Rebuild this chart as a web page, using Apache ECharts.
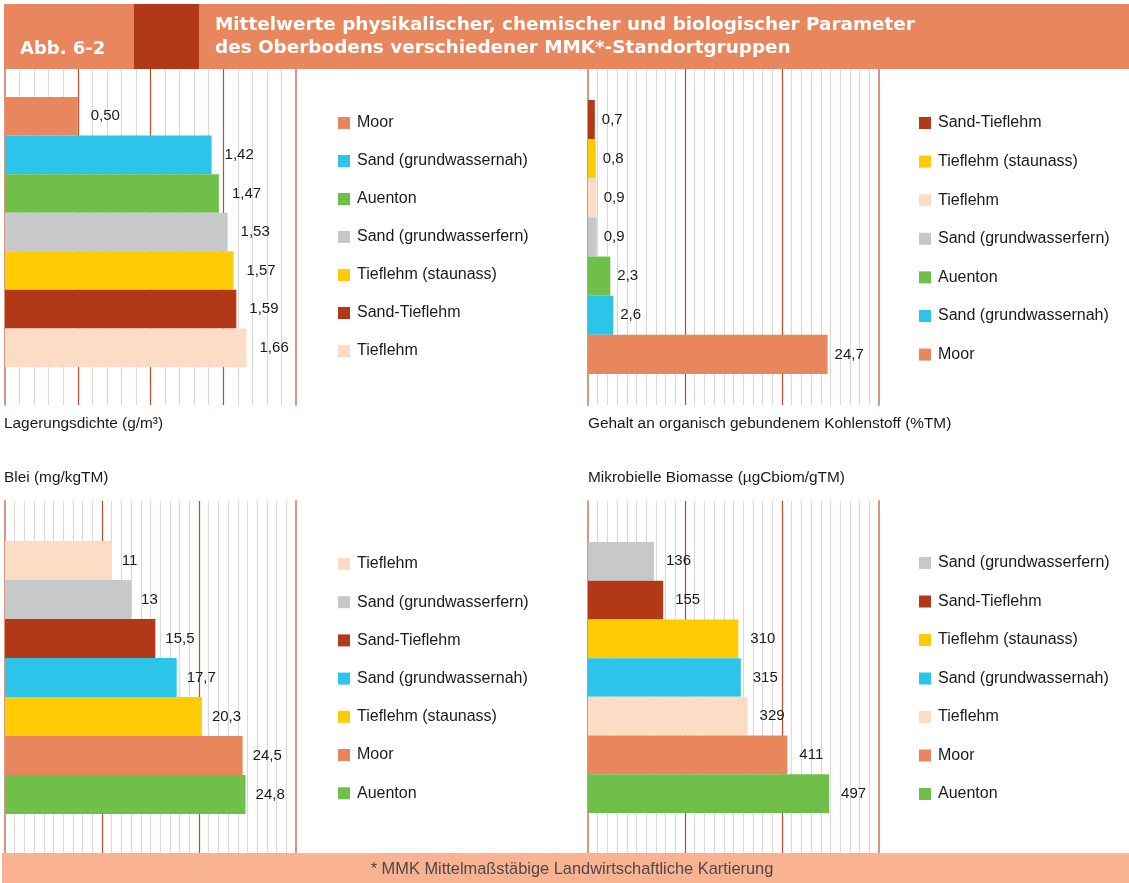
<!DOCTYPE html>
<html>
<head>
<meta charset="utf-8">
<script src="https://cdn.jsdelivr.net/npm/echarts@6/dist/echarts.min.js"></script>
<style>
html,body{margin:0;padding:0;background:#fff;}
#chart{width:1129px;height:883px;}
</style>
</head>
<body>
<div id="chart"></div>
<script>
// ---- data ----
const cats1 = ["Moor","Sand (grundwassernah)","Auenton","Sand (grundwasserfern)","Tieflehm (staunass)","Sand-Tieflehm","Tieflehm"];
const vals1 = [0.50,1.42,1.47,1.53,1.57,1.59,1.66];
const cats2 = ["Sand-Tieflehm","Tieflehm (staunass)","Tieflehm","Sand (grundwasserfern)","Auenton","Sand (grundwassernah)","Moor"];
const vals2 = [0.7,0.8,0.9,0.9,2.3,2.6,24.7];
const cats3 = ["Tieflehm","Sand (grundwasserfern)","Sand-Tieflehm","Sand (grundwassernah)","Tieflehm (staunass)","Moor","Auenton"];
const vals3 = [11,13,15.5,17.7,20.3,24.5,24.8];
const cats4 = ["Sand (grundwasserfern)","Sand-Tieflehm","Tieflehm (staunass)","Sand (grundwassernah)","Tieflehm","Moor","Auenton"];
const vals4 = [136,155,310,315,329,411,497];

const axisMax = [2, 30, 30, 600];
const axisInterval = [0.5, 10, 10, 200];
const minorSplits = [5, 10, 10, 10];
const decimals = [2, 1, null, null];

const captions = ["Lagerungsdichte (g/m³)","Gehalt an organisch gebundenem Kohlenstoff (%TM)","Blei (mg/kgTM)","Mikrobielle Biomasse (µgCbiom/gTM)"];
const titleLines = ["Mittelwerte physikalischer, chemischer und biologischer Parameter","des Oberbodens verschiedener MMK*-Standortgruppen"];
const figLabel = "Abb. 6-2";
const footnote = "* MMK Mittelmaßstäbige Landwirtschaftliche Kartierung";

// ---- styling ----
const colorMap = {
  "Moor": "#E8875E",
  "Sand (grundwassernah)": "#2CC4E8",
  "Auenton": "#71BF4B",
  "Sand (grundwasserfern)": "#C7C8CA",
  "Tieflehm (staunass)": "#FECB05",
  "Sand-Tieflehm": "#B13917",
  "Tieflehm": "#FDDCC6"
};
const FONT = "'Liberation Sans', Arial, sans-serif";
const HFONT = "'DejaVu Sans', sans-serif";

const panels = [
  {cats: cats1, vals: vals1, left: 5,   bgTop: 69,  bgH: 336, barTop: 97,  barH: 270, legLeft: 338, legTop: 115, gap: 22,  dist: 13},
  {cats: cats2, vals: vals2, left: 588, bgTop: 69,  bgH: 336, barTop: 100, barH: 274, legLeft: 919, legTop: 115, gap: 22.6, dist: 7},
  {cats: cats3, vals: vals3, left: 5,   bgTop: 501, bgH: 352, barTop: 541, barH: 273, legLeft: 338, legTop: 556, gap: 22.2, dist: 10},
  {cats: cats4, vals: vals4, left: 588, bgTop: 501, bgH: 352, barTop: 542, barH: 271, legLeft: 919, legTop: 555, gap: 22.5, dist: 12}
];
const PW = 291;

const grid = [], xAxis = [], yAxis = [], series = [], legend = [];
panels.forEach((p, i) => {
  const gBg = grid.length;
  grid.push({left: p.left, top: p.bgTop, width: PW, height: p.bgH});
  const gBar = grid.length;
  grid.push({left: p.left, top: p.barTop, width: PW, height: p.barH});

  xAxis.push({
    type: 'value', gridIndex: gBg, min: 0, max: axisMax[i], interval: axisInterval[i],
    axisLine: {show: false}, axisTick: {show: false}, axisLabel: {show: false},
    splitLine: {show: true, showMinLine: false, showMaxLine: false, lineStyle: {color: '#BF4B2C', width: 1.2}},
    minorTick: {show: false, splitNumber: minorSplits[i]},
    minorSplitLine: {show: true, lineStyle: {color: '#D9D9D9', width: 1.2}}
  });
  yAxis.push({
    type: 'value', gridIndex: gBg, min: 0, max: 1, position: 'left',
    axisLine: {show: true, lineStyle: {color: '#DA9583', width: 2}},
    axisTick: {show: false}, axisLabel: {show: false}, splitLine: {show: false}
  });
  yAxis.push({
    type: 'value', gridIndex: gBg, min: 0, max: 1, position: 'right',
    axisLine: {show: true, lineStyle: {color: '#DA9583', width: 2}},
    axisTick: {show: false}, axisLabel: {show: false}, splitLine: {show: false}
  });

  const xi = xAxis.length;
  xAxis.push({type: 'value', gridIndex: gBar, min: 0, max: axisMax[i], show: false});
  const yi = yAxis.length;
  yAxis.push({type: 'category', gridIndex: gBar, data: p.cats, inverse: true, show: false});

  p.cats.forEach((c, k) => {
    series.push({
      type: 'bar', name: c, xAxisIndex: xi, yAxisIndex: yi,
      barGap: '-100%', barCategoryGap: 0,
      itemStyle: {color: colorMap[c]},
      data: p.vals.map((v, j) => j === k ? v : '-'),
      label: {
        show: true, position: 'right', distance: p.dist,
        fontFamily: FONT, fontSize: 15, color: '#1a1a1a',
        formatter: (o) => {
          const d = decimals[i];
          const s = d === null ? String(o.value) : Number(o.value).toFixed(d);
          return s.replace('.', ',');
        }
      },
      emphasis: {disabled: true},
      animation: false
    });
  });

  legend.push({
    orient: 'vertical', left: p.legLeft, top: p.legTop, itemGap: p.gap, padding: 0,
    itemWidth: 12, itemHeight: 12, icon: 'rect',
    data: p.cats.slice(),
    textStyle: {fontFamily: FONT, fontSize: 16, color: '#1a1a1a', lineHeight: 16, padding: [0,0,0,2]},
    selectedMode: false
  });
});

const graphic = [
  {type: 'rect', shape: {x: 4, y: 4, width: 1125, height: 65}, style: {fill: '#E8875E'}, z: 10},
  {type: 'rect', shape: {x: 134, y: 4, width: 65, height: 65}, style: {fill: '#B13917'}, z: 11},
  {type: 'text', x: 20, y: 49, z: 12, style: {text: figLabel, fill: '#fff', font: "bold 18px " + HFONT, textVerticalAlign: 'middle'}},
  {type: 'text', x: 215, y: 25, z: 12, style: {text: titleLines[0], fill: '#fff', font: "bold 18.4px " + HFONT, textVerticalAlign: 'middle'}},
  {type: 'text', x: 215, y: 48.5, z: 12, style: {text: titleLines[1], fill: '#fff', font: "bold 18.4px " + HFONT, textVerticalAlign: 'middle'}},
  {type: 'text', x: 4, y: 424, style: {text: captions[0], fill: '#1a1a1a', font: "15.4px " + FONT, textVerticalAlign: 'middle'}},
  {type: 'text', x: 588, y: 424, style: {text: captions[1], fill: '#1a1a1a', font: "15.4px " + FONT, textVerticalAlign: 'middle'}},
  {type: 'text', x: 4, y: 478, style: {text: captions[2], fill: '#1a1a1a', font: "15.4px " + FONT, textVerticalAlign: 'middle'}},
  {type: 'text', x: 588, y: 478, style: {text: captions[3], fill: '#1a1a1a', font: "15.4px " + FONT, textVerticalAlign: 'middle'}},
  {type: 'rect', shape: {x: 2, y: 853, width: 1127, height: 30}, style: {fill: '#F9B393'}, z: 10},
  {type: 'text', x: 572, y: 869, z: 12, style: {text: footnote, fill: '#4a4a4a', font: "16.4px " + FONT, textAlign: 'center', textVerticalAlign: 'middle'}}
];

const chart = echarts.init(document.getElementById('chart'), null, {renderer: 'canvas'});
chart.setOption({
  animation: false,
  backgroundColor: '#fff',
  grid, xAxis, yAxis, series, legend, graphic
});
</script>
</body>
</html>
